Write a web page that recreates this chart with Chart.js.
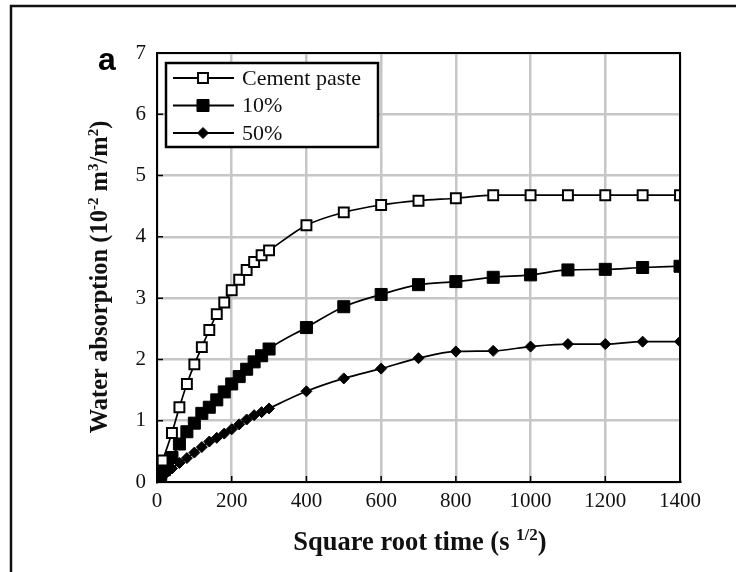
<!DOCTYPE html>
<html>
<head>
<meta charset="utf-8">
<title>Water absorption</title>
<script src="https://cdn.jsdelivr.net/npm/chart.js@4/dist/chart.umd.min.js"></script>
<style>
  html, body { margin: 0; padding: 0; background: #fff; }
  #absorptionChart { display: block; }
</style>
</head>
<body>
<canvas id="absorptionChart" width="736" height="572"></canvas>
<script>
    // Square root time (s^1/2) for each series
    const timeCement = [15, 40, 60, 80, 100, 120, 140, 160, 180, 200, 220, 240, 260, 280, 300,
        400, 500, 600, 700, 800, 900, 1000, 1100, 1200, 1300, 1400];
    const time10 = [10, 20, 40, 60, 80, 100, 120, 140, 160, 180, 200, 220, 240, 260, 280, 300,
        400, 500, 600, 700, 800, 900, 1000, 1100, 1200, 1300, 1400];
    const time50 = [10, 20, 40, 60, 80, 100, 120, 140, 160, 180, 200, 220, 240, 260, 280, 300,
        400, 500, 600, 700, 800, 900, 1000, 1100, 1200, 1300, 1400];

    // Water absorption (10^-2 m3/m2)
    const cementPaste = [0.35, 0.80, 1.22, 1.60, 1.92, 2.20, 2.48, 2.74, 2.93, 3.13, 3.30, 3.46, 3.59, 3.70, 3.78,
        4.19, 4.40, 4.52, 4.59, 4.63, 4.68, 4.68, 4.68, 4.68, 4.68, 4.68];
    const replaced10 = [0.12, 0.20, 0.40, 0.62, 0.82, 0.96, 1.12, 1.22, 1.34, 1.47, 1.60, 1.72, 1.84, 1.96, 2.06, 2.17,
        2.52, 2.86, 3.06, 3.22, 3.27, 3.34, 3.38, 3.46, 3.47, 3.50, 3.52];
    const replaced50 = [0.06, 0.12, 0.22, 0.31, 0.39, 0.48, 0.57, 0.66, 0.72, 0.79, 0.86, 0.94, 1.02, 1.09, 1.14, 1.20,
        1.48, 1.69, 1.85, 2.02, 2.13, 2.14, 2.21, 2.25, 2.25, 2.29, 2.29];

    const seriesLabels = ['Cement paste', '10%', '50%'];
    const xTicks = [0, 200, 400, 600, 800, 1000, 1200, 1400];
    const yTicks = [0, 1, 2, 3, 4, 5, 6, 7];

    const SERIF = "'Liberation Serif', 'Times New Roman', serif";
    const INK = '#111';

    const toPoints = (xs, ys) => xs.map((x, i) => ({ x: x, y: ys[i] }));

    // draws a line of text with raised parts, centred on cx
    function drawRich(ctx, parts, cx, baseY, size, supSize, rise) {
        let total = 0;
        parts.forEach(p => {
            ctx.font = 'bold ' + (p.sup ? supSize : size) + 'px ' + SERIF;
            p.w = ctx.measureText(p.t).width;
            total += p.w;
        });
        let x = cx - total / 2;
        ctx.textAlign = 'left';
        ctx.textBaseline = 'alphabetic';
        parts.forEach(p => {
            ctx.font = 'bold ' + (p.sup ? supSize : size) + 'px ' + SERIF;
            ctx.fillText(p.t, x, baseY - (p.sup ? rise : 0));
            x += p.w;
        });
    }

    function drawMarker(ctx, ds, x, y) {
        const r = ds.pointRadius;
        ctx.lineWidth = ds.pointBorderWidth;
        ctx.strokeStyle = ds.pointBorderColor;
        ctx.fillStyle = ds.pointBackgroundColor;
        ctx.beginPath();
        if (ds.pointStyle === 'rectRot') {
            ctx.moveTo(x, y - r);
            ctx.lineTo(x + r, y);
            ctx.lineTo(x, y + r);
            ctx.lineTo(x - r, y);
            ctx.closePath();
        } else {
            const s = Math.SQRT1_2 * r;
            ctx.rect(x - s, y - s, 2 * s, 2 * s);
        }
        ctx.fill();
        ctx.stroke();
    }

    // frame, plot box, inward ticks, legend and axis titles
    const decorations = {
        id: 'decorations',
        afterDraw(chart) {
            const { ctx, chartArea: a, scales: { x, y } } = chart;
            ctx.save();

            // outer frame
            ctx.strokeStyle = INK;
            ctx.lineWidth = 2.5;
            ctx.beginPath();
            ctx.moveTo(11, chart.height);
            ctx.lineTo(11, 6);
            ctx.lineTo(chart.width, 6);
            ctx.stroke();

            // top and right edges of the plot
            ctx.strokeStyle = '#000';
            ctx.lineWidth = 2;
            ctx.beginPath();
            ctx.moveTo(a.left, a.top);
            ctx.lineTo(a.right, a.top);
            ctx.lineTo(a.right, a.bottom);
            ctx.stroke();

            // tick marks pointing into the plot
            ctx.lineWidth = 1.5;
            ctx.beginPath();
            x.ticks.forEach(t => {
                const px = x.getPixelForValue(t.value);
                ctx.moveTo(px, a.bottom);
                ctx.lineTo(px, a.bottom - 6);
            });
            y.ticks.forEach(t => {
                const py = y.getPixelForValue(t.value);
                ctx.moveTo(a.left, py);
                ctx.lineTo(a.left + 6, py);
            });
            ctx.stroke();

            // legend
            const box = { left: 166, top: 63, right: 378, bottom: 147 };
            ctx.fillStyle = '#fff';
            ctx.fillRect(box.left, box.top, box.right - box.left, box.bottom - box.top);
            ctx.strokeStyle = '#000';
            ctx.lineWidth = 2.5;
            ctx.strokeRect(box.left, box.top, box.right - box.left, box.bottom - box.top);
            const rowY = [78, 105.5, 133];
            chart.data.datasets.forEach((ds, i) => {
                const ry = rowY[i];
                ctx.strokeStyle = '#000';
                ctx.lineWidth = 1.8;
                ctx.beginPath();
                ctx.moveTo(173, ry);
                ctx.lineTo(234, ry);
                ctx.stroke();
                drawMarker(ctx, ds, 203, ry);
                ctx.fillStyle = INK;
                ctx.font = '22px ' + SERIF;
                ctx.textAlign = 'left';
                ctx.textBaseline = 'middle';
                ctx.fillText(ds.label, 242, ry + 1);
            });

            // panel letter
            ctx.fillStyle = '#000';
            ctx.font = "bold 32px 'Liberation Sans', Arial, sans-serif";
            ctx.textAlign = 'left';
            ctx.textBaseline = 'alphabetic';
            ctx.fillText('a', 98, 70);

            // axis titles
            ctx.fillStyle = INK;
            drawRich(ctx, [
                { t: 'Square root time (s ' },
                { t: '1/2', sup: true },
                { t: ')' }
            ], 420, 550, 26.5, 17, 10);

            ctx.translate(107, 277);
            ctx.rotate(-Math.PI / 2);
            drawRich(ctx, [
                { t: 'Water absorption (10' },
                { t: '-2', sup: true },
                { t: ' m' },
                { t: '3', sup: true },
                { t: '/m' },
                { t: '2', sup: true },
                { t: ')' }
            ], 0, 0, 24.5, 15, 9);

            ctx.restore();
        }
    };

    const baseLine = {
        borderColor: '#000',
        borderWidth: 1.7,
        cubicInterpolationMode: 'monotone',
        pointBorderColor: '#000',
        pointHoverRadius: 0,
        fill: false
    };

    const ctx = document.getElementById('absorptionChart').getContext('2d');
    const absorptionChart = new Chart(ctx, {
        type: 'line',
        data: {
            datasets: [{
                ...baseLine,
                label: seriesLabels[0],
                data: toPoints(timeCement, cementPaste),
                pointStyle: 'rect',
                pointRadius: 7,
                pointBorderWidth: 2,
                pointBackgroundColor: '#fff'
            }, {
                ...baseLine,
                label: seriesLabels[1],
                data: toPoints(time10, replaced10),
                pointStyle: 'rect',
                pointRadius: 8.5,
                pointBorderWidth: 1,
                pointBackgroundColor: '#000'
            }, {
                ...baseLine,
                label: seriesLabels[2],
                data: toPoints(time50, replaced50),
                pointStyle: 'rectRot',
                pointRadius: 5.5,
                pointBorderWidth: 1,
                pointBackgroundColor: '#000'
            }]
        },
        options: {
            responsive: false,
            animation: false,
            layout: {
                padding: { top: 53, right: 56, left: 0, bottom: 0 }
            },
            plugins: {
                legend: { display: false },
                tooltip: { enabled: false }
            },
            scales: {
                x: {
                    type: 'linear',
                    min: xTicks[0],
                    max: xTicks[xTicks.length - 1],
                    afterBuildTicks: scale => { scale.ticks = xTicks.map(v => ({ value: v })); },
                    afterFit: scale => { scale.height = 90; },
                    grid: { color: '#c6c6c6', lineWidth: 2.5, drawTicks: false },
                    border: { color: '#000', width: 2 },
                    ticks: {
                        color: INK,
                        padding: 7,
                        maxRotation: 0,
                        font: { family: SERIF, size: 21 },
                        callback: value => String(value)
                    }
                },
                y: {
                    min: yTicks[0],
                    max: yTicks[yTicks.length - 1],
                    afterBuildTicks: scale => { scale.ticks = yTicks.map(v => ({ value: v })); },
                    afterFit: scale => { scale.width = 157; },
                    grid: { color: '#c6c6c6', lineWidth: 2.5, drawTicks: false },
                    border: { color: '#000', width: 2 },
                    ticks: {
                        color: INK,
                        padding: 11,
                        font: { family: SERIF, size: 21 },
                        callback: value => String(value)
                    }
                }
            }
        },
        plugins: [decorations]
    });
</script>
</body>
</html>
